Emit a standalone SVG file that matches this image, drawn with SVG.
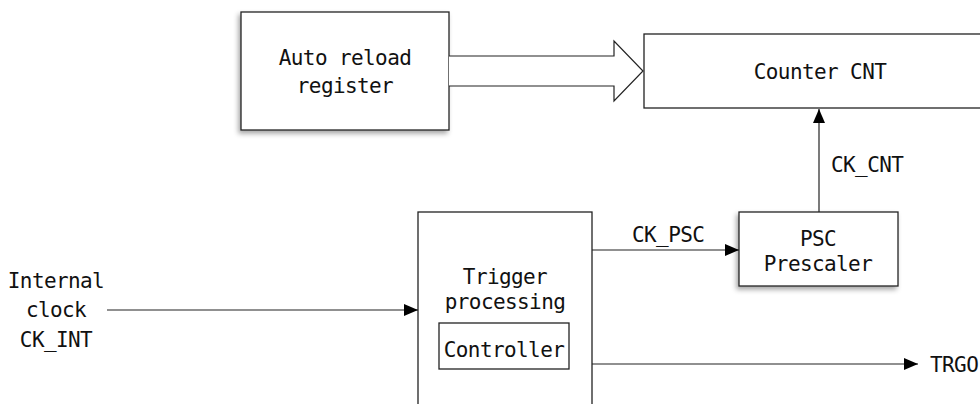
<svg xmlns="http://www.w3.org/2000/svg" width="980" height="404" viewBox="0 0 980 404">
<style>
.box{fill:#fff;stroke:#222;stroke-width:1.3}
.t{font-family:"DejaVu Sans Mono","Liberation Mono",monospace;font-size:21px;letter-spacing:-0.6px;fill:#111}
.m{text-anchor:middle}
.ln{stroke:#222;stroke-width:1.2;fill:none}
</style>
<defs>
<filter id="sh" x="-10%" y="-10%" width="120%" height="130%">
<feDropShadow dx="-2" dy="3" stdDeviation="2.5" flood-color="#000" flood-opacity="0.35"/>
</filter>
<marker id="ah" viewBox="0 0 14 12" refX="14" refY="6" markerWidth="14" markerHeight="12" markerUnits="userSpaceOnUse" orient="auto">
<path d="M0,0 L14,6 L0,12 Z" fill="#000"/>
</marker>
</defs>
<rect width="980" height="404" fill="#fff"/>
<g id="auto-reload">
<rect class="box" x="241" y="12" width="208" height="118" filter="url(#sh)"/>
<text class="t m" x="345" y="65">Auto reload</text>
<text class="t m" x="345" y="93">register</text>
</g>
<g id="counter">
<rect class="box" x="644" y="34" width="345" height="74"/>
<text class="t m" x="820" y="79">Counter CNT</text>
</g>
<g id="psc">
<rect class="box" x="739" y="212" width="159" height="74" filter="url(#sh)"/>
<text class="t m" x="818" y="246">PSC</text>
<text class="t m" x="818" y="271">Prescaler</text>
</g>
<g id="trigger">
<rect class="box" x="418" y="212" width="174" height="200"/>
<text class="t m" x="505" y="284">Trigger</text>
<text class="t m" x="505" y="309">processing</text>
</g>
<g id="controller">
<rect class="box" x="439" y="323" width="130" height="46"/>
<text class="t m" x="504" y="357">Controller</text>
</g>
<g id="labels">
<text class="t m" x="56" y="288">Internal</text>
<text class="t m" x="56" y="317">clock</text>
<text class="t m" x="56" y="347">CK_INT</text>
<text class="t" x="930" y="372">TRGO</text>
</g>
<g id="connectors">
<path d="M449,56 L614,56 L614,41 L643,71 L614,101 L614,86 L449,86" fill="#fff" stroke="#222" stroke-width="1.2"/>
<line class="ln" x1="819" y1="212" x2="819" y2="109" marker-end="url(#ah)"/>
<text class="t" x="831" y="172">CK_CNT</text>
<line class="ln" x1="592" y1="250" x2="739" y2="250" marker-end="url(#ah)"/>
<text class="t" x="632" y="242">CK_PSC</text>
<line class="ln" x1="107" y1="310" x2="418" y2="310" marker-end="url(#ah)"/>
<line class="ln" x1="592" y1="364" x2="918" y2="364" marker-end="url(#ah)"/>
</g>
</svg>
